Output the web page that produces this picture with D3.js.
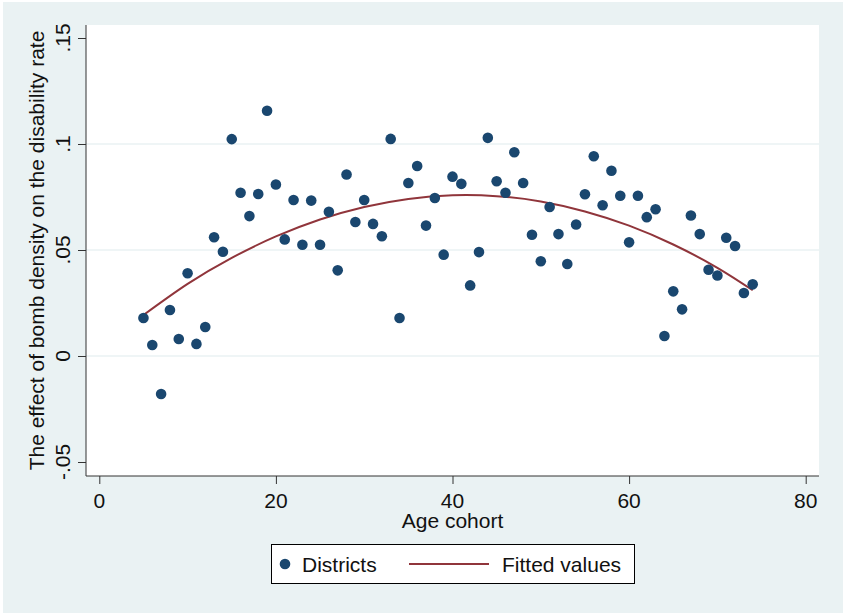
<!DOCTYPE html>
<html>
<head>
    <title>Bomb density effect by age cohort</title>
    <script src="https://d3js.org/d3.v7.min.js"></script>
    <style>
        body { margin: 0; background: #ffffff; }
        text { font-family: "Liberation Sans", Arial, sans-serif; fill: #111; }
    </style>
</head>
<body>
    <div id="viz"></div>
    <script>
        // age cohorts and estimated district effects
        var cohorts = [5, 6, 7, 8, 9, 10, 11, 12, 13, 14, 15, 16, 17, 18, 19, 20, 21, 22, 23, 24,
            25, 26, 27, 28, 29, 30, 31, 32, 33, 34, 35, 36, 37, 38, 39, 40, 41, 42, 43, 44,
            45, 46, 47, 48, 49, 50, 51, 52, 53, 54, 55, 56, 57, 58, 59, 60, 61, 62, 63, 64,
            65, 66, 67, 68, 69, 70, 71, 72, 73, 74];
        var effects = [0.0179, 0.0052, -0.0179, 0.0217, 0.0080, 0.0390, 0.0057, 0.0137, 0.0560, 0.0492,
            0.1023, 0.0770, 0.0660, 0.0764, 0.1157, 0.0809, 0.0550, 0.0736, 0.0525, 0.0733,
            0.0525, 0.0680, 0.0404, 0.0856, 0.0632, 0.0736, 0.0623, 0.0565, 0.1024, 0.0179,
            0.0816, 0.0896, 0.0615, 0.0745, 0.0478, 0.0846, 0.0812, 0.0333, 0.0490, 0.1029,
            0.0824, 0.0770, 0.0961, 0.0816, 0.0572, 0.0447, 0.0703, 0.0575, 0.0434, 0.0620,
            0.0763, 0.0942, 0.0711, 0.0874, 0.0756, 0.0536, 0.0756, 0.0655, 0.0692, 0.0094,
            0.0305, 0.0220, 0.0663, 0.0575, 0.0407, 0.0380, 0.0558, 0.0519, 0.0297, 0.0338];

        // fitted values line
        var fitX = [5, 10, 15, 20, 25, 30, 35, 40, 45, 50, 55, 60, 65, 70, 74];
        var fitY = [0.0193, 0.0340, 0.0463, 0.0564, 0.0644, 0.0703, 0.0741, 0.0758, 0.0754,
            0.0729, 0.0682, 0.0615, 0.0526, 0.0416, 0.0310];

        var xTicks = [0, 20, 40, 60, 80];
        var yTicks = [-0.05, 0, 0.05, 0.1, 0.15];
        var yTickLabels = ["-.05", "0", ".05", ".1", ".15"];
        var gridTicks = [0, 0.05, 0.1];

        var W = 843, H = 613;
        var plot = { left: 86, right: 819, top: 25, bottom: 476 };

        var svg = d3.select("#viz").append("svg")
            .attr("width", W)
            .attr("height", H);

        // outer background
        svg.append("rect")
            .attr("x", 3).attr("y", 2)
            .attr("width", W - 3).attr("height", H - 2)
            .attr("fill", "#eaf2f3");

        // plot region
        svg.append("rect")
            .attr("x", plot.left).attr("y", plot.top)
            .attr("width", plot.right - plot.left)
            .attr("height", plot.bottom - plot.top)
            .attr("fill", "#ffffff");

        var x = d3.scaleLinear().domain([0, 80]).range([99.3, 805.7]);
        var y = d3.scaleLinear().domain([0, 0.15]).range([356, 38]);

        // grid lines
        svg.append("g").selectAll("line")
            .data(gridTicks)
            .enter().append("line")
            .attr("x1", plot.left).attr("x2", plot.right)
            .attr("y1", function (d) { return y(d); })
            .attr("y2", function (d) { return y(d); })
            .attr("stroke", "#eaf2f3")
            .attr("stroke-width", 1.5);

        // Y axis
        var yAxis = svg.append("g")
            .attr("transform", "translate(" + plot.left + ",0)")
            .call(d3.axisLeft(y).tickValues(yTicks).tickSize(8).tickFormat(""));
        yAxis.select(".domain").attr("d", "M0," + plot.top + "V" + plot.bottom);
        yAxis.selectAll("line, path").attr("stroke", "#333");

        svg.append("g").selectAll("text")
            .data(yTicks)
            .enter().append("text")
            .attr("transform", function (d) { return "translate(70," + y(d) + ") rotate(-90)"; })
            .attr("text-anchor", "middle")
            .style("font-size", "21px")
            .text(function (d, i) { return yTickLabels[i]; });

        // X axis
        var xAxis = svg.append("g")
            .attr("transform", "translate(0," + plot.bottom + ")")
            .call(d3.axisBottom(x).tickValues(xTicks).tickSize(8).tickFormat(""));
        xAxis.select(".domain").attr("d", "M" + plot.left + ",0H" + plot.right);
        xAxis.selectAll("line, path").attr("stroke", "#333");

        svg.append("g").selectAll("text")
            .data(xTicks)
            .enter().append("text")
            .attr("x", function (d) { return x(d); })
            .attr("y", 508)
            .attr("text-anchor", "middle")
            .style("font-size", "21px")
            .text(function (d) { return d; });

        // axis titles
        svg.append("text")
            .attr("x", (plot.left + plot.right) / 2)
            .attr("y", 528)
            .attr("text-anchor", "middle")
            .style("font-size", "21px")
            .text("Age cohort");

        svg.append("text")
            .attr("transform", "translate(44," + (plot.top + plot.bottom) / 2 + ") rotate(-90)")
            .attr("text-anchor", "middle")
            .style("font-size", "21px")
            .text("The effect of bomb density on the disability rate");

        // fitted line
        var line = d3.line()
            .x(function (d, i) { return x(fitX[i]); })
            .y(function (d) { return y(d); })
            .curve(d3.curveNatural);
        svg.append("path")
            .datum(fitY)
            .attr("d", line)
            .attr("fill", "none")
            .attr("stroke", "#90353b")
            .attr("stroke-width", 2);

        // district points
        svg.append("g").selectAll("circle")
            .data(effects)
            .enter().append("circle")
            .attr("cx", function (d, i) { return x(cohorts[i]); })
            .attr("cy", function (d) { return y(d); })
            .attr("r", 5.3)
            .attr("fill", "#1a476f");

        // legend
        var legend = svg.append("g");
        legend.append("rect")
            .attr("x", 271.5).attr("y", 544.5)
            .attr("width", 363).attr("height", 39)
            .attr("fill", "#ffffff")
            .attr("stroke", "#000")
            .attr("stroke-width", 1);
        legend.append("circle")
            .attr("cx", 285).attr("cy", 564)
            .attr("r", 5.3)
            .attr("fill", "#1a476f");
        legend.append("text")
            .attr("x", 302).attr("y", 572)
            .style("font-size", "21px")
            .text("Districts");
        legend.append("line")
            .attr("x1", 409).attr("x2", 489)
            .attr("y1", 564).attr("y2", 564)
            .attr("stroke", "#90353b")
            .attr("stroke-width", 2);
        legend.append("text")
            .attr("x", 502).attr("y", 572)
            .style("font-size", "21px")
            .text("Fitted values");
    </script>
</body>
</html>
